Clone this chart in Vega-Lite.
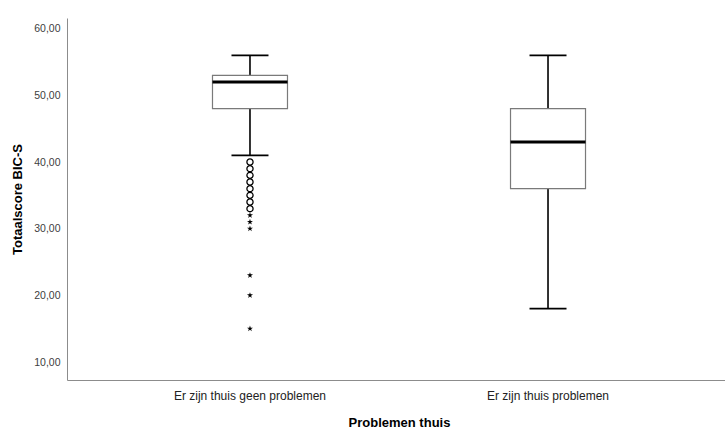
{
  "$schema": "https://vega.github.io/schema/vega-lite/v6.json",
  "width": 664,
  "height": 362,
  "autosize": "none",
  "padding": {"left": 67, "top": 18, "right": 0, "bottom": 50},
  "background": "white",
  "config": {
    "view": {"stroke": null},
    "font": "Liberation Sans",
    "axis": {"domainColor": "#8c8c8c", "ticks": false, "grid": false, "labelColor": "#404040", "labelFontSize": 10.5, "titleFontSize": 13, "titleFontWeight": "bold", "titleColor": "#000000"}
  },
  "datasets": {
    "summary": [
      {"group": "Er zijn thuis geen problemen", "lower": 41, "q1": 48, "median": 52, "q3": 53, "upper": 56},
      {"group": "Er zijn thuis problemen", "lower": 18, "q1": 36, "median": 43, "q3": 48, "upper": 56}
    ],
    "outliers": [
      {"group": "Er zijn thuis geen problemen", "score": 40, "type": "outlier"},
      {"group": "Er zijn thuis geen problemen", "score": 39, "type": "outlier"},
      {"group": "Er zijn thuis geen problemen", "score": 38, "type": "outlier"},
      {"group": "Er zijn thuis geen problemen", "score": 37, "type": "outlier"},
      {"group": "Er zijn thuis geen problemen", "score": 36, "type": "outlier"},
      {"group": "Er zijn thuis geen problemen", "score": 35, "type": "outlier"},
      {"group": "Er zijn thuis geen problemen", "score": 34, "type": "outlier"},
      {"group": "Er zijn thuis geen problemen", "score": 33, "type": "outlier"},
      {"group": "Er zijn thuis geen problemen", "score": 32, "type": "extreme"},
      {"group": "Er zijn thuis geen problemen", "score": 31, "type": "extreme"},
      {"group": "Er zijn thuis geen problemen", "score": 30, "type": "extreme"},
      {"group": "Er zijn thuis geen problemen", "score": 23, "type": "extreme"},
      {"group": "Er zijn thuis geen problemen", "score": 20, "type": "extreme"},
      {"group": "Er zijn thuis geen problemen", "score": 15, "type": "extreme"}
    ]
  },
  "encoding": {
    "x": {
      "field": "group", "type": "nominal",
      "scale": {"domain": ["Er zijn thuis geen problemen", "Er zijn thuis problemen"], "paddingInner": 0, "paddingOuter": 0.114},
      "axis": {"title": "Problemen thuis", "labelAngle": 0, "labelPadding": 10, "titlePadding": 15, "labelFontSize": 12, "labelColor": "#222222"}
    }
  },
  "layer": [
    {
      "data": {"name": "summary"},
      "mark": {"type": "rule", "color": "#000000", "strokeWidth": 1.6, "opacity": 1},
      "encoding": {
        "y": {"field": "lower", "type": "quantitative", "scale": {"domain": [7.3, 61.6], "nice": false, "zero": false},
          "axis": {"title": "Totaalscore BIC-S", "values": [10, 20, 30, 40, 50, 60], "labelExpr": "replace(format(datum.value, '.2f'), '.', ',')", "labelPadding": 7, "titlePadding": 9}},
        "y2": {"field": "upper"}
      }
    },
    {
      "data": {"name": "summary"},
      "mark": {"type": "tick", "color": "#000000", "thickness": 1.6, "size": 37, "opacity": 1},
      "encoding": {"y": {"field": "lower", "type": "quantitative"}}
    },
    {
      "data": {"name": "summary"},
      "mark": {"type": "tick", "color": "#000000", "thickness": 1.6, "size": 37, "opacity": 1},
      "encoding": {"y": {"field": "upper", "type": "quantitative"}}
    },
    {
      "data": {"name": "summary"},
      "mark": {"type": "bar", "fill": "#ffffff", "stroke": "#7a7a7a", "strokeWidth": 1.2, "size": 75, "opacity": 1},
      "encoding": {"y": {"field": "q1", "type": "quantitative"}, "y2": {"field": "q3"}}
    },
    {
      "data": {"name": "summary"},
      "mark": {"type": "tick", "color": "#000000", "thickness": 3, "size": 75, "opacity": 1},
      "encoding": {"y": {"field": "median", "type": "quantitative"}}
    },
    {
      "data": {"name": "outliers"},
      "transform": [{"filter": "datum.type === 'outlier'"}],
      "mark": {"type": "point", "shape": "circle", "filled": false, "stroke": "#000000", "strokeWidth": 1.3, "size": 38, "opacity": 1},
      "encoding": {"y": {"field": "score", "type": "quantitative"}}
    },
    {
      "data": {"name": "outliers"},
      "transform": [{"filter": "datum.type === 'extreme'"}],
      "mark": {"type": "point", "shape": "M0,-1L0.2245,-0.309L0.951,-0.309L0.363,0.118L0.588,0.809L0,0.382L-0.588,0.809L-0.363,0.118L-0.951,-0.309L-0.2245,-0.309Z", "filled": true, "fill": "#000000", "stroke": null, "size": 40, "opacity": 1},
      "encoding": {"y": {"field": "score", "type": "quantitative"}}
    }
  ]
}
